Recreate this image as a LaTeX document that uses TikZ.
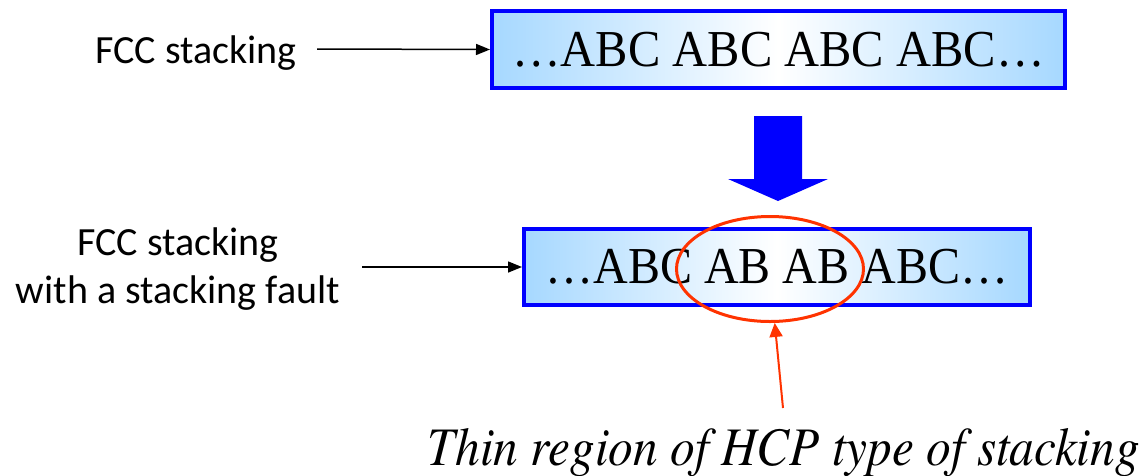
\documentclass[tikz,border=0pt]{standalone}
\usepackage{fontspec}
\setmainfont{Liberation Serif}
\newfontfamily\labelfont{Carlito}
\newfontfamily\notefont{texgyretermes-italic.otf}
\usetikzlibrary{arrows.meta,shapes.geometric}

\definecolor{boxblue}{RGB}{0,0,255}
\definecolor{skyfill}{RGB}{166,216,255}
\definecolor{hcpred}{RGB}{255,51,0}

\tikzset{
  stackbox/.style={draw=boxblue, line width=4pt, rectangle,
    left color=skyfill, right color=skyfill, middle color=white,
    inner sep=0pt, font=\fontsize{48}{56}\selectfont},
  sidelabel/.style={font=\labelfont\fontsize{40}{48}\selectfont, align=center, inner sep=0pt},
  pointer/.style={draw=black, line width=1.5pt, -{Triangle[length=14pt,width=11pt]}},
  redpointer/.style={draw=hcpred, line width=2pt, -{Triangle[length=14pt,width=13pt]}},
}

\begin{document}
\begin{tikzpicture}[x=1pt,y=-1pt]
  \useasboundingbox (0,0) rectangle (1144,475);

  % stacking sequences
  \node[stackbox, minimum width=573pt, minimum height=77pt] (fcc) at (778.5,49.5)
    {\scalebox{1.01}[1.08]{…ABC ABC ABC ABC…}};
  \node[stackbox, minimum width=506pt, minimum height=76pt] (fault) at (777,267)
    {\scalebox{1}[1.08]{…ABC AB AB ABC…}};

  % side labels
  \node[sidelabel, anchor=base] (l1) at (196,63) {FCC stacking};
  \node[sidelabel, anchor=base] (l2a) at (178,255) {FCC stacking};
  \node[sidelabel, anchor=base] (l2b) at (178,303) {with a stacking fault};
  \coordinate (s1) at (317,49);
  \coordinate (s2) at (362,267);
  \draw[pointer] (s1) -- (fcc.west);
  \draw[pointer] (s2) -- (fault.west);

  % block arrow between the sequences
  \fill[boxblue] (754,116) -- (802,116) -- (802,179) -- (828,179) -- (778,201)
    -- (728,179) -- (754,179) -- cycle;

  % HCP region marker
  \node[ellipse, draw=hcpred, line width=3pt, minimum width=187pt, minimum height=105pt,
        inner sep=0pt] (hcp) at (770,269) {};
  \coordinate (ptr) at (783,408);
  \draw[redpointer] (ptr) -- (hcp.-85);

  \node[anchor=base, inner sep=0pt] (note) at (784,465)
    {\scalebox{1}[1.1]{\resizebox{712pt}{!}{\notefont\fontsize{48}{56}\selectfont Thin region of HCP type of stacking}}};
\end{tikzpicture}
\end{document}
